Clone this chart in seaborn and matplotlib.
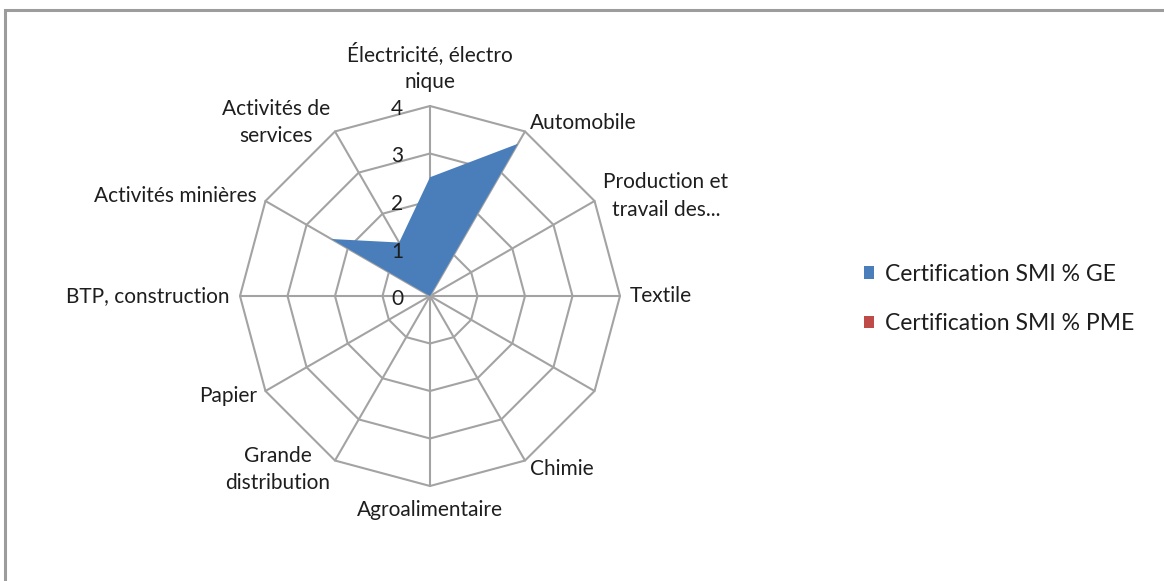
import numpy as np
import matplotlib
matplotlib.use("Agg")
import matplotlib.pyplot as plt
from matplotlib.patches import Rectangle
import seaborn as sns

# categories clockwise from the top (one spoke has no visible label)
categories = [
    "Électricité, électro\nnique",
    "Automobile",
    "Production et\ntravail des...",
    "Textile",
    "",
    "Chimie",
    "Agroalimentaire",
    "Grande\ndistribution",
    "Papier",
    "BTP, construction",
    "Activités minières",
    "Activités de\nservices",
]
ge_values = [2.5, 3.7, 0, 0, 0, 0, 0, 0, 0, 0, 2.4, 1.3]
pme_values = [0, 0, 0, 0, 0, 0, 0, 0, 0, 0, 0, 0]
series_names = ["Certification SMI % GE", "Certification SMI % PME"]
r_ticks = [0, 1, 2, 3, 4]

sns.set_theme(style="white")
plt.rcParams["font.family"] = ["Lato", "DejaVu Sans"]

blue = "#4a7ebb"
red = "#be4b48"
grid_col = "#a3a3a3"
text_col = "#1e1e1e"

W, H = 1164, 581
cx, cy, rad = 430, 296, 190
fig = plt.figure(figsize=(W / 100, H / 100), dpi=100)
fig.patch.set_facecolor("white")
ax = fig.add_axes([(cx - rad) / W, (H - cy - rad) / H, 2 * rad / W, 2 * rad / H],
                  projection="polar")
ax.set_theta_zero_location("N")
ax.set_theta_direction(-1)
ax.set_ylim(0, max(r_ticks))
ax.grid(False)
ax.set_xticks([])
ax.set_yticks([])
ax.spines["polar"].set_visible(False)
ax.patch.set_alpha(0)

n = len(categories)
angles = np.linspace(0, 2 * np.pi, n, endpoint=False)
closed = np.r_[angles, angles[0]]

# polygon grid rings and spokes
for r in r_ticks[1:]:
    ax.plot(closed, [r] * (n + 1), color=grid_col, lw=1.5, zorder=1, clip_on=False)
for a in angles:
    ax.plot([a, a], [0, max(r_ticks)], color=grid_col, lw=1.5, zorder=1, clip_on=False)

ge_fill = ax.fill(closed, ge_values + ge_values[:1], color=blue, lw=0, zorder=3)[0]
pme_fill = ax.fill(closed, pme_values + pme_values[:1], color=red, lw=0, zorder=3)[0]

# radial value labels left of the top spoke
for v in r_ticks:
    ax.annotate(str(v), xy=(0, v), xytext=(-27, -3), textcoords="offset pixels",
                ha="right", va="center", fontsize=15, color=text_col)

# category labels around the outer ring
for a, lab in zip(angles, categories):
    s, c = np.sin(a), np.cos(a)
    if abs(s) < 0.1:
        ha = "center"
        va = "bottom" if c > 0 else "top"
        off = (0, 14 * np.sign(c))
    else:
        ha = "left" if s > 0 else "right"
        va = "center"
        off = (10 * s, 10 * c)
    ax.annotate(lab, xy=(a, max(r_ticks)), xytext=off, textcoords="offset pixels",
                ha=ha, va=va, multialignment="center", linespacing=1.45,
                fontsize=15, color=text_col, annotation_clip=False)

fig.legend([ge_fill, pme_fill], series_names, loc="center left",
           bbox_to_anchor=(843 / W, 1 - 299 / H), frameon=False, fontsize=16.5,
           handlelength=0.45, handleheight=0.45, handletextpad=0.5,
           labelspacing=1.25, labelcolor=text_col)

# chart area border (top and left visible)
fig.add_artist(Rectangle((4.5 / W, -0.1), 1.2, 1.1 - 10 / H, transform=fig.transFigure,
                         fill=False, ec="#9c9c9c", lw=2.2))

fig.savefig("out.png", dpi=100)
